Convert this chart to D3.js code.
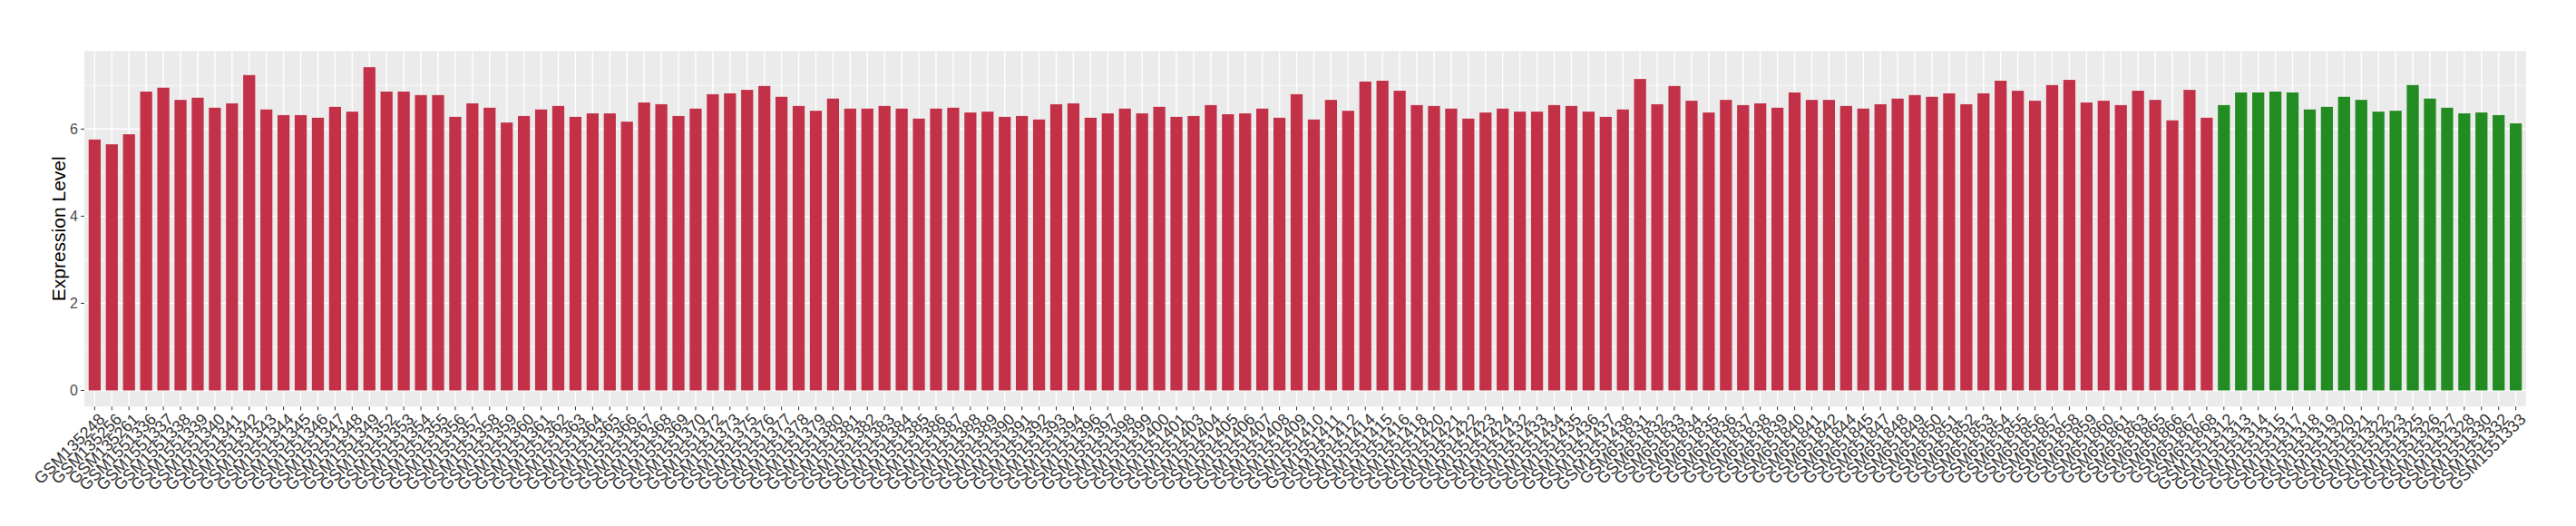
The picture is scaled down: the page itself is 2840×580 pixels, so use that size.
<!DOCTYPE html>
<html lang="en">
<head>
<meta charset="UTF-8">
<title>Expression Level</title>
<script src="https://d3js.org/d3.v7.min.js"></script>
<style>
  body { margin: 0; background: #fff; }
  svg { font-family: "Liberation Sans", Arial, Helvetica, sans-serif; display: block; }
  .grid-major { stroke: #fff; stroke-width: 1.4px; }
  .grid-minor { stroke: #fff; stroke-width: 0.7px; }
  .tick-mark { stroke: #333; stroke-width: 1px; }
  .tick-label { fill: #4d4d4d; font-size: 16px; }
  .x-label { fill: #333; font-size: 18px; }
</style>
</head>
<body>
<svg width="2840" height="580"></svg>
<script>
// samples in the first group (red) and the second group (green)
const redSamples = [
  "GSM135248","GSM135256","GSM135261",
  "GSM1551336","GSM1551337","GSM1551338","GSM1551339","GSM1551340","GSM1551341","GSM1551342",
  "GSM1551343","GSM1551344","GSM1551345","GSM1551346","GSM1551347","GSM1551348","GSM1551349",
  "GSM1551352","GSM1551353","GSM1551354","GSM1551355","GSM1551356","GSM1551357","GSM1551358",
  "GSM1551359","GSM1551360","GSM1551361","GSM1551362","GSM1551363","GSM1551364","GSM1551365",
  "GSM1551366","GSM1551367","GSM1551368","GSM1551369","GSM1551370","GSM1551372","GSM1551373",
  "GSM1551375","GSM1551376","GSM1551377","GSM1551378","GSM1551379","GSM1551380","GSM1551381",
  "GSM1551382","GSM1551383","GSM1551384","GSM1551385","GSM1551386","GSM1551387","GSM1551388",
  "GSM1551389","GSM1551390","GSM1551391","GSM1551392","GSM1551393","GSM1551394","GSM1551396",
  "GSM1551397","GSM1551398","GSM1551399","GSM1551400","GSM1551401","GSM1551403","GSM1551404",
  "GSM1551405","GSM1551406","GSM1551407","GSM1551408","GSM1551409","GSM1551410","GSM1551411",
  "GSM1551412","GSM1551414","GSM1551415","GSM1551416","GSM1551418","GSM1551420","GSM1551421",
  "GSM1551422","GSM1551423","GSM1551424","GSM1551432","GSM1551433","GSM1551434","GSM1551435",
  "GSM1551436","GSM1551437","GSM1551438",
  "GSM651831","GSM651832","GSM651833","GSM651834","GSM651835","GSM651836","GSM651837",
  "GSM651838","GSM651839","GSM651840","GSM651841","GSM651842","GSM651844","GSM651845",
  "GSM651847","GSM651848","GSM651849","GSM651850","GSM651851","GSM651852","GSM651853",
  "GSM651854","GSM651855","GSM651856","GSM651857","GSM651858","GSM651859","GSM651860",
  "GSM651861","GSM651863","GSM651865","GSM651866","GSM651867","GSM651868"
];
const redValues = [
  5.76, 5.65, 5.88, 6.86, 6.95, 6.67, 6.72, 6.49, 6.59, 7.24, 6.45, 6.32, 6.32, 6.26, 6.51, 6.40,
  7.42, 6.86, 6.86, 6.78, 6.78, 6.28, 6.59, 6.49,
  6.15, 6.30, 6.45, 6.53, 6.28, 6.36, 6.36, 6.17, 6.61, 6.57, 6.30, 6.47, 6.80, 6.82, 6.90, 6.99,
  6.74, 6.53, 6.42, 6.70, 6.47, 6.47, 6.53,
  6.47, 6.24, 6.47, 6.49, 6.38, 6.40, 6.28, 6.30, 6.22, 6.57, 6.59, 6.26, 6.36, 6.47, 6.36, 6.51,
  6.28, 6.30, 6.55, 6.34, 6.36, 6.47, 6.26,
  6.80, 6.22, 6.67, 6.42, 7.09, 7.11, 6.88, 6.55, 6.53, 6.47, 6.24, 6.38, 6.47, 6.40, 6.40, 6.55,
  6.53, 6.40, 6.28, 6.45, 7.15, 6.57, 6.99,
  6.65, 6.38, 6.67, 6.55, 6.59, 6.49, 6.84, 6.67, 6.67, 6.53, 6.47, 6.57, 6.70, 6.78, 6.74, 6.82,
  6.57, 6.82, 7.11, 6.88, 6.65, 7.01, 7.13, 6.61,
  6.65, 6.55, 6.88, 6.67, 6.20, 6.90, 6.26
];
const greenSamples = [
  "GSM1551312","GSM1551313","GSM1551314","GSM1551315","GSM1551317","GSM1551318","GSM1551319",
  "GSM1551320","GSM1551321","GSM1551322","GSM1551323","GSM1551325","GSM1551326","GSM1551327",
  "GSM1551328","GSM1551330","GSM1551332","GSM1551333"
];
const greenValues = [
  6.55, 6.84, 6.84, 6.86, 6.84, 6.45, 6.51, 6.74, 6.67, 6.40, 6.42, 7.01, 6.70, 6.49, 6.36, 6.38,
  6.32, 6.13
];
const yTicks = [0, 2, 4, 6];
const yMinorTicks = [1, 3, 5, 7];
const groupColors = { red: "#c33149", green: "#228b22" };

const data = redSamples.map((s, i) => ({ sample: s, value: redValues[i], group: "red" }))
  .concat(greenSamples.map((s, i) => ({ sample: s, value: greenValues[i], group: "green" })));

const panel = { left: 93, right: 2785, top: 56.3, bottom: 448.3 };
const svg = d3.select("svg");

const x = d3.scaleBand()
  .domain(data.map(d => d.sample))
  .range([panel.left, panel.right])
  .paddingInner(0.3)
  .paddingOuter(0.25);

const yMax = d3.max(data, d => d.value);
const y = d3.scaleLinear()
  .domain([-0.05 * yMax, 1.05 * yMax])
  .range([panel.bottom, panel.top]);

// panel background + grid (ggplot grey theme)
svg.append("rect")
  .attr("x", panel.left).attr("y", panel.top)
  .attr("width", panel.right - panel.left).attr("height", panel.bottom - panel.top)
  .attr("fill", "#ebebeb");

svg.selectAll(".grid-minor")
  .data(yMinorTicks)
  .enter().append("line")
  .attr("class", "grid-minor")
  .attr("x1", panel.left).attr("x2", panel.right)
  .attr("y1", d => y(d)).attr("y2", d => y(d));

svg.selectAll(".grid-major.h")
  .data(yTicks)
  .enter().append("line")
  .attr("class", "grid-major h")
  .attr("x1", panel.left).attr("x2", panel.right)
  .attr("y1", d => y(d)).attr("y2", d => y(d));

svg.selectAll(".grid-major.v")
  .data(data)
  .enter().append("line")
  .attr("class", "grid-major v")
  .attr("x1", d => x(d.sample) + x.bandwidth() / 2)
  .attr("x2", d => x(d.sample) + x.bandwidth() / 2)
  .attr("y1", panel.top).attr("y2", panel.bottom);

// bars
svg.selectAll(".bar")
  .data(data)
  .enter().append("rect")
  .attr("class", "bar")
  .attr("x", d => x(d.sample))
  .attr("width", x.bandwidth())
  .attr("y", d => y(d.value))
  .attr("height", d => y(0) - y(d.value))
  .attr("fill", d => groupColors[d.group]);

// y axis
const yAxis = svg.append("g");
yAxis.selectAll("line")
  .data(yTicks)
  .enter().append("line")
  .attr("class", "tick-mark")
  .attr("x1", panel.left - 4).attr("x2", panel.left)
  .attr("y1", d => y(d)).attr("y2", d => y(d));
yAxis.selectAll("text")
  .data(yTicks)
  .enter().append("text")
  .attr("class", "tick-label")
  .attr("x", panel.left - 7)
  .attr("y", d => y(d))
  .attr("dy", "0.35em")
  .attr("text-anchor", "end")
  .text(d => d);

svg.append("text")
  .attr("transform", `translate(72,${(panel.top + panel.bottom) / 2}) rotate(-90)`)
  .attr("text-anchor", "middle")
  .attr("font-size", 21)
  .attr("fill", "#000")
  .text("Expression Level");

// x axis
const xAxis = svg.append("g");
xAxis.selectAll("line")
  .data(data)
  .enter().append("line")
  .attr("class", "tick-mark")
  .attr("x1", d => x(d.sample) + x.bandwidth() / 2)
  .attr("x2", d => x(d.sample) + x.bandwidth() / 2)
  .attr("y1", panel.bottom).attr("y2", panel.bottom + 4);
xAxis.selectAll("text")
  .data(data)
  .enter().append("text")
  .attr("class", "x-label")
  .attr("transform", d => `translate(${x(d.sample) + x.bandwidth() / 2 + 3},${panel.bottom + 6}) rotate(-45)`)
  .attr("text-anchor", "end")
  .attr("dy", "0.72em")
  .text(d => d.sample);
</script>
</body>
</html>
